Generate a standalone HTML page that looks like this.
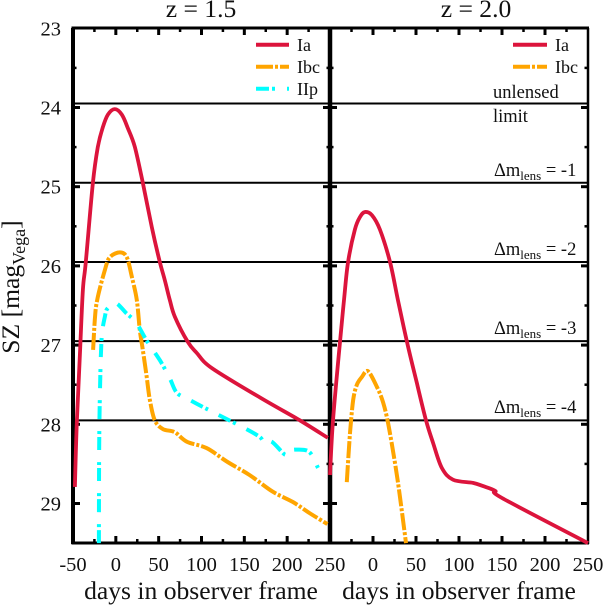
<!DOCTYPE html>
<html>
<head>
<meta charset="utf-8">
<style>
html,body{margin:0;padding:0;background:#fff;width:603px;height:607px;overflow:hidden}
svg{display:block}
text{font-family:"Liberation Serif","DejaVu Serif",serif;fill:#111}
</style>
</head>
<body>
<svg id="chart" xmlns="http://www.w3.org/2000/svg" width="603" height="607" viewBox="0 0 603 607">
  <g id="axes"></g>
  <g id="limits"></g>
  <g id="curves"></g>
  <g id="labels"></g>
  <text x="201" y="17" font-size="25.6" text-anchor="middle">z = 1.5</text>
  <text x="476" y="17" font-size="25.6" text-anchor="middle">z = 2.0</text>
  <text x="201" y="599" font-size="25.6" text-anchor="middle">days in observer frame</text>
  <text x="459" y="599" font-size="25.6" text-anchor="middle">days in observer frame</text>
  <text transform="translate(19,287) rotate(-90)" font-size="25.6" text-anchor="middle">SZ [mag<tspan font-size="18" dy="6">Vega</tspan><tspan dy="-6">]</tspan></text>

  <g font-size="18">
    <text x="297" y="51">Ia</text>
    <text x="297" y="73">Ibc</text>
    <text x="297" y="95">IIp</text>
  </g>
  <g font-size="18">
    <text x="555" y="51">Ia</text>
    <text x="555" y="73">Ibc</text>
  </g>
  <line x1="256" x2="289" y1="44.7" y2="44.7" stroke="#dc143c" stroke-width="4"/>
  <line x1="256" x2="289" y1="66.7" y2="66.7" stroke="#ffa500" stroke-width="4" stroke-dasharray="17 2 3 2"/>
  <line x1="256" x2="289" y1="88.7" y2="88.7" stroke="#00ffff" stroke-width="4" stroke-dasharray="13 3 3 12"/>
  <line x1="513" x2="547" y1="44.7" y2="44.7" stroke="#dc143c" stroke-width="4"/>
  <line x1="513" x2="547" y1="66.7" y2="66.7" stroke="#ffa500" stroke-width="4" stroke-dasharray="17 2 3 2"/>

  <g font-size="18.5">
    <text x="493" y="98">unlensed</text>
    <text x="493" y="122">limit</text>
    <text x="494" y="176">Δm<tspan font-size="13" dy="4">lens</tspan><tspan dy="-4"> = -1</tspan></text>
    <text x="494" y="255">Δm<tspan font-size="13" dy="4">lens</tspan><tspan dy="-4"> = -2</tspan></text>
    <text x="494" y="334">Δm<tspan font-size="13" dy="4">lens</tspan><tspan dy="-4"> = -3</tspan></text>
    <text x="494" y="413">Δm<tspan font-size="13" dy="4">lens</tspan><tspan dy="-4"> = -4</tspan></text>
  </g>
</svg>
<script>
const daysLeftIa = [-47.8,-45.5,-42,-38.5,-35,-26.8,-21,-15.2,-9.3,-1.2,7,14,22.2,31.5,42,51.3,57.2,63,68.8,84,94.5,112,168,214.7,247.4];
const magLeftIa = [28.79,27.95,27.12,26.30,25.95,24.95,24.5,24.25,24.09,24.02,24.09,24.26,24.5,24.95,25.51,25.95,26.18,26.43,26.64,26.96,27.1,27.29,27.66,27.95,28.17];
const daysLeftIbc = [-26.5,-24.5,-21.8,-12.8,-7,4.7,12.8,18.7,24.5,28,31.5,36,39.7,45.5,55,68.8,82.8,106,129.5,156,183,206.5,226,247];
const magLeftIbc = [27.06,26.68,26.43,26.05,25.89,25.83,25.89,26.14,26.43,26.81,27.06,27.4,27.69,27.95,28.06,28.1,28.22,28.3,28.47,28.64,28.85,28.98,29.12,29.26];
const daysLeftIIp = [-19.8,-19.5,-18.7,-16.7,-12.8,-9.3,0,12.5,24,35.8,51.3,63,71,84,101.5,117.8,150.5,168,173.9,182,197,199.5,211,226,236];
const magLeftIIp = [29.5,28.41,27.69,26.94,26.64,26.53,26.47,26.6,26.72,26.94,27.19,27.42,27.6,27.68,27.78,27.87,28.05,28.16,28.24,28.22,28.38,28.34,28.32,28.35,28.55];
const daysRightIa = [-50,-46.5,-38.4,-33.7,-29,-21,-15,-9.3,-1.2,8,19.8,29,39.5,51,61.6,70,80,93,116.3,128,142,150,250];
const magRightIa = [28.64,27.95,26.96,26.43,25.95,25.54,25.38,25.32,25.36,25.54,25.95,26.43,26.96,27.48,27.95,28.24,28.55,28.7,28.74,28.78,28.84,28.93,29.5];
const daysRightIbc = [-30.5,-26.7,-23,-18.7,-12.8,-5.8,4.7,11.6,17.4,25.6,31.4,38.4];
const magRightIbc = [28.73,28.11,27.69,27.5,27.4,27.33,27.53,27.72,27.98,28.49,28.92,29.5];
const limitMags = [23.95,24.95,25.95,26.95,27.95];
const yTickLabels = ["23","24","25","26","27","28","29"];
const xTickLabelsLeft = ["-50","0","50","100","150","200","250"];
const xTickLabelsRight = ["0","50","100","150","200","250"];

const NS = "http://www.w3.org/2000/svg";
const scaleY = m => 28.3 + (m - 23) * 79.2;
const scaleLeft = d => 73 + (d + 50) * 257 / 300;
const scaleRight = d => 330 + (d + 50) * 258 / 300;
const plotBottom = 543, plotTop = 28;
const axesGroup = document.getElementById("axes");
const limitsGroup = document.getElementById("limits");
const curvesGroup = document.getElementById("curves");
const labelsGroup = document.getElementById("labels");

function addLine(parent, name, x1, y1, x2, y2, width, color) {
  const el = document.createElementNS(NS, "line");
  
  
  el.setAttribute("x1", x1);
  el.setAttribute("y1", y1);
  el.setAttribute("x2", x2);
  el.setAttribute("y2", y2);
  el.setAttribute("stroke", color || "#000");
  el.setAttribute("stroke-width", width);
  parent.appendChild(el);
}
function addLabel(name, x, y, str, anchor) {
  const el = document.createElementNS(NS, "text");
  
  
  el.setAttribute("x", x);
  el.setAttribute("y", y);
  el.setAttribute("font-size", "20.5");
  el.setAttribute("text-anchor", anchor);
  el.textContent = str;
  labelsGroup.appendChild(el);
}
/* Smooth path through the data points (Catmull-Rom to Bezier) */
function smoothPath(pts) {
  let p = "M" + pts[0][0].toFixed(1) + "," + pts[0][1].toFixed(1);
  for (let i = 0; i < pts.length - 1; i++) {
    const a = pts[Math.max(i - 1, 0)], b = pts[i], c = pts[i + 1], e = pts[Math.min(i + 2, pts.length - 1)];
    const c1x = b[0] + (c[0] - a[0]) / 6, c1y = b[1] + (c[1] - a[1]) / 6;
    const c2x = c[0] - (e[0] - b[0]) / 6, c2y = c[1] - (e[1] - b[1]) / 6;
    p += "C" + c1x.toFixed(1) + "," + c1y.toFixed(1) + " " + c2x.toFixed(1) + "," + c2y.toFixed(1) + " " + c[0].toFixed(1) + "," + c[1].toFixed(1);
  }
  return p;
}
function addCurve(name, days, mags, scaleX, color, width, dash) {
  const el = document.createElementNS(NS, "path");
  
  
  el.setAttribute("d", smoothPath(days.map((d, i) => [scaleX(d), scaleY(mags[i])])));
  el.setAttribute("fill", "none");
  el.setAttribute("stroke", color);
  el.setAttribute("stroke-width", width);
  el.setAttribute("stroke-linejoin", "round");
  if (dash) el.setAttribute("stroke-dasharray", dash);
  curvesGroup.appendChild(el);
}

/* frame */
addLine(axesGroup, "top-axis", 71.5, plotTop, 589, plotTop, 3);
addLine(axesGroup, "bottom-axis", 71.5, plotBottom, 589, plotBottom, 3);
addLine(axesGroup, "left-axis", 73, plotTop, 73, plotBottom + 1, 4);
addLine(axesGroup, "center-axis", scaleLeft(250), plotTop, scaleLeft(250), plotBottom + 1, 4.5);
addLine(axesGroup, "right-axis", scaleRight(250), plotTop, scaleRight(250), plotBottom + 1, 2.5);

/* ticks */
for (let d = -25; d < 250; d += 25) {
  const major = d % 50 === 0;
  const len = major ? 6 : 3;
  const w = major ? 3 : 2.5;
  addLine(axesGroup, "x-tick-top-left", scaleLeft(d), plotTop, scaleLeft(d), plotTop + len + 1, w);
  addLine(axesGroup, "x-tick-bottom-left", scaleLeft(d), plotBottom, scaleLeft(d), plotBottom - len - 1, w);
  addLine(axesGroup, "x-tick-top-right", scaleRight(d), plotTop, scaleRight(d), plotTop + len + 1, w);
  addLine(axesGroup, "x-tick-bottom-right", scaleRight(d), plotBottom, scaleRight(d), plotBottom - len - 1, w);
}
for (let m = 23.5; m < 29.5; m += 0.5) {
  const major = Number.isInteger(m);
  const len = major ? 7 : 3.5;
  const w = major ? 3 : 2.5;
  const y = scaleY(m);
  addLine(axesGroup, "y-tick-left", 73, y, 73 + len, y, w);
  addLine(axesGroup, "y-tick-center", 330 - len, y, 330 + len, y, w);
  addLine(axesGroup, "y-tick-right", 588 - len, y, 588, y, w);
}

/* horizontal limits */
limitMags.forEach(m => {
  addLine(limitsGroup, "limit-line", 73, scaleY(m), 588, scaleY(m), 2);
});

/* curves */
addCurve("curve-ia-left", daysLeftIa, magLeftIa, scaleLeft, "#dc143c", 3.8, "");
addCurve("curve-ibc-left", daysLeftIbc, magLeftIbc, scaleLeft, "#ffa500", 4, "17 2 3 2");
addCurve("curve-iip-left", daysLeftIIp, magLeftIIp, scaleLeft, "#00ffff", 4, "13 3 3 12");
addCurve("curve-ia-right", daysRightIa, magRightIa, scaleRight, "#dc143c", 3.8, "");
addCurve("curve-ibc-right", daysRightIbc, magRightIbc, scaleRight, "#ffa500", 4, "17 2 3 2");

/* tick labels */
yTickLabels.forEach(s => {
  addLabel("y-tick-label", 61, scaleY(Number(s)) + 7, s, "end");
});
xTickLabelsLeft.forEach(s => {
  addLabel("x-tick-label-left", scaleLeft(Number(s)), 571, s, "middle");
});
xTickLabelsRight.forEach(s => {
  addLabel("x-tick-label-right", scaleRight(Number(s)), 571, s, "middle");
});
</script>
</body>
</html>
